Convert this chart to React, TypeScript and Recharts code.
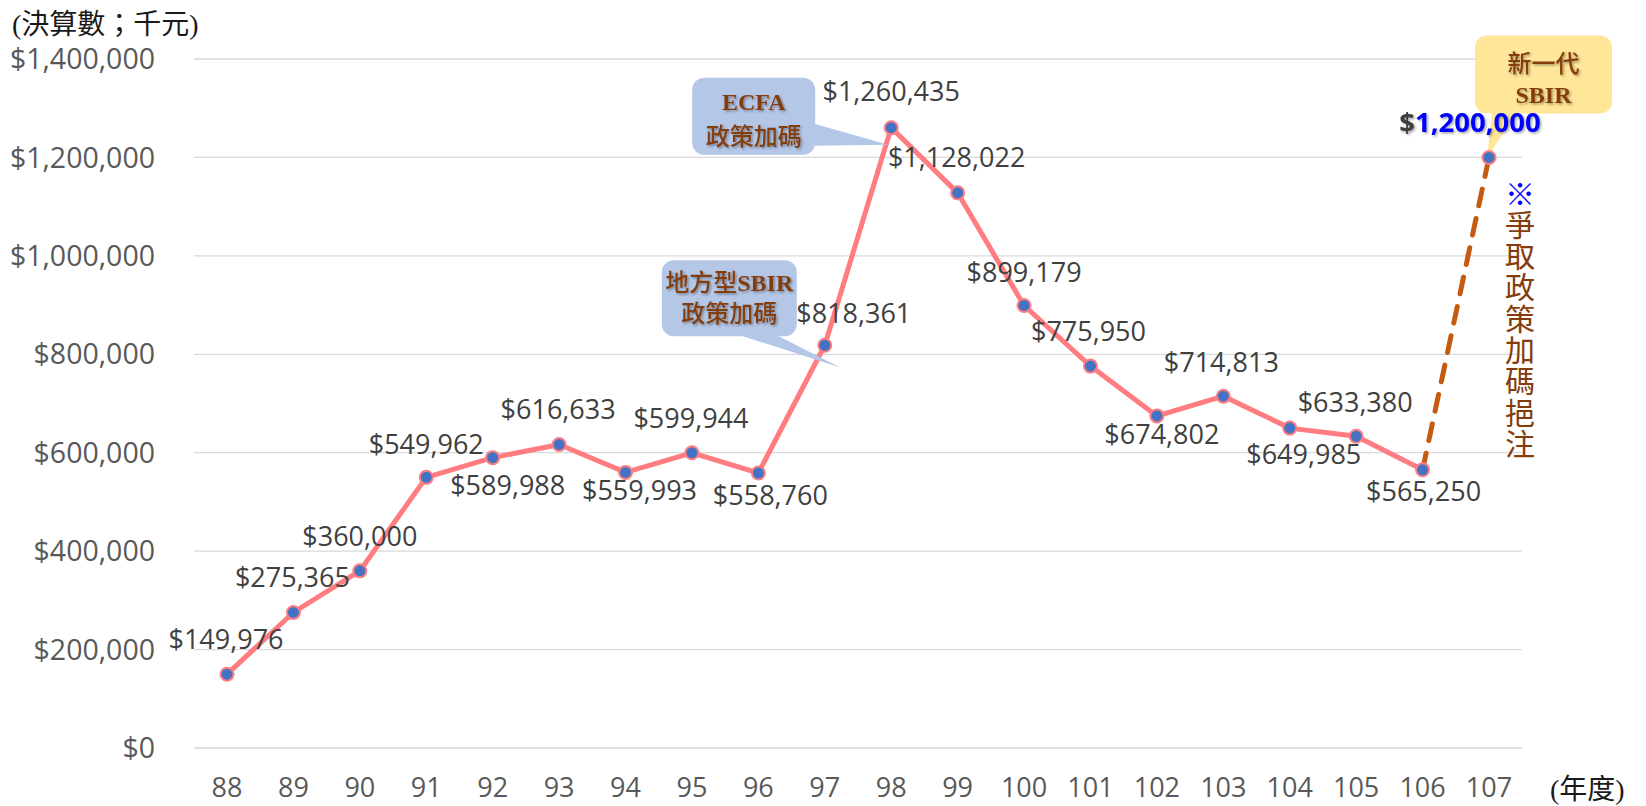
import React from 'react';
import { LineChart, Line, XAxis, YAxis, CartesianGrid, LabelList, ReferenceDot } from 'recharts';

// ---------- data ----------
const years = ['88', '89', '90', '91', '92', '93', '94', '95', '96', '97', '98', '99', '100', '101', '102', '103', '104', '105', '106', '107'];
const budget = [149976, 275365, 360000, 549962, 589988, 616633, 559993, 599944, 558760, 818361, 1260435, 1128022, 899179, 775950, 674802, 714813, 649985, 633380, 565250, 1200000];
const yTicks = [0, 200000, 400000, 600000, 800000, 1000000, 1200000, 1400000];
const lastActualIndex = 18;

const yUnitTitle = '(決算數；千元)';
const xUnitTitle = '(年度)';
const ecfaLines = ['ECFA', '政策加碼'];
const localLines = ['地方型', 'SBIR', '政策加碼'];
const newGenLines = ['新一代', 'SBIR'];
const noteMark = '※';
const noteText = '爭取政策加碼挹注';

// ---------- layout (label placement relative to point, px) ----------
const labelOffsets: [number, number][] = [
  [-1, -35], [-1, -35], [0, -34], [0, -33], [15, 28], [-1, -35], [14, 18], [-1, -34], [12, 22], [29, -32],
  [0, -36], [-1, -35], [0, -33], [-2, -35], [5, 18], [-2, -34], [14, 26], [-1, -34], [1, 22], [0, 0],
];

const W = 1646;
const H = 806;
const NUM_FONT = "'Open Sans', 'Noto Sans', sans-serif";
const CJK_FONT = "'Noto Sans CJK TC', 'Noto Sans CJK SC', sans-serif";
const SERIF_FONT = "'Liberation Serif', 'Noto Sans CJK TC', serif";
const BROWN = '#843C0C';
const DOT_FILL = '#4472C4';
const LINE_COLOR = '#FF7C80';

const data = years.map((y, i) => ({
  year: y,
  actual: i <= lastActualIndex ? budget[i] : null,
  target: i >= lastActualIndex ? budget[i] : null,
}));

const fmt = (v: number) => '$' + v.toLocaleString('en-US');

const ShadowDefs = ({ id }: { id: string }) => (
  <defs>
    <filter id={id} x="-20%" y="-20%" width="140%" height="140%">
      <feDropShadow dx="1.5" dy="1.5" stdDeviation="1" floodColor="#000" floodOpacity="0.35" />
    </filter>
  </defs>
);

const DataLabel = (props: any) => {
  const index = props.index;
  if (index == null || index > lastActualIndex) return null;
  const x = props.x ?? props.viewBox?.x;
  const y = props.y ?? props.viewBox?.y;
  if (x == null || y == null) return null;
  const [dx, dy] = labelOffsets[index];
  const fs = 27;
  return (
    <text x={x + dx} y={y + dy + fs * 0.357} textAnchor="middle" fontFamily={NUM_FONT} fontSize={fs} fill="#404040">
      {fmt(budget[index])}
    </text>
  );
};

const TargetDot = (props: any) => {
  const { index } = props;
  return <g key={`td-${index}`} />;
};

const EcfaCallout = (props: any) => {
  const { cx, cy } = props;
  if (cx == null) return null;
  const l = cx - 199, r = cx - 76, t = cy - 50, b = cy + 27;
  const mx = (l + r) / 2;
  const fs = 24;
  return (
    <g>
      <ShadowDefs id="shEcfa" />
      <rect x={l} y={t} width={r - l} height={b - t} rx={12} fill="#B4C7E7" />
      <polygon points={`${r - 1},${cy - 4} ${cx - 3},${cy + 17} ${r - 1},${cy + 18}`} fill="#B4C7E7" />
      <g filter="url(#shEcfa)" fill={BROWN}>
        <text x={mx} y={cy - 26 + fs * 0.35} textAnchor="middle" fontFamily={SERIF_FONT} fontWeight="bold" fontSize={fs}>
          {ecfaLines[0]}
        </text>
        <text x={mx} y={cy + 9 + fs * 0.36} textAnchor="middle" fontFamily={CJK_FONT} fontSize={fs} fontWeight={500}>
          {ecfaLines[1]}
        </text>
      </g>
    </g>
  );
};

const LocalCallout = (props: any) => {
  const { cx, cy } = props;
  if (cx == null) return null;
  const l = cx - 163, r = cx - 28, t = cy - 85, b = cy - 9;
  const mx = (l + r) / 2;
  const fs = 24;
  return (
    <g>
      <ShadowDefs id="shLocal" />
      <rect x={l} y={t} width={r - l} height={b - t} rx={12} fill="#B4C7E7" />
      <polygon points={`${cx - 85},${b - 1} ${cx + 15},${cy + 22} ${cx - 48},${b - 1}`} fill="#B4C7E7" />
      <g filter="url(#shLocal)" fill={BROWN}>
        <text x={mx} y={cy - 63 + fs * 0.36} textAnchor="middle" fontSize={fs}>
          <tspan fontFamily={CJK_FONT} fontWeight={500}>{localLines[0]}</tspan>
          <tspan fontFamily={SERIF_FONT} fontWeight="bold">{localLines[1]}</tspan>
        </text>
        <text x={mx} y={cy - 32 + fs * 0.36} textAnchor="middle" fontFamily={CJK_FONT} fontSize={fs} fontWeight={500}>
          {localLines[2]}
        </text>
      </g>
    </g>
  );
};

const NewGenCallout = (props: any) => {
  const { cx, cy } = props;
  if (cx == null) return null;
  const l = cx - 14, r = cx + 123, t = cy - 122, b = cy - 44;
  const mx = (l + r) / 2;
  const fs = 24;
  const nfs = 27.5;
  const vfs = 30;
  return (
    <g>
      <ShadowDefs id="shNew" />
      <rect x={l} y={t} width={r - l} height={b - t} rx={12} fill="#FFE699" />
      <polygon points={`${cx + 3},${b - 1} ${cx - 2},${cy} ${cx + 28},${b - 1}`} fill="#FFE699" />
      <g filter="url(#shNew)" fill={BROWN}>
        <text x={mx} y={cy - 94 + fs * 0.36} textAnchor="middle" fontFamily={CJK_FONT} fontSize={fs} fontWeight={500}>
          {newGenLines[0]}
        </text>
        <text x={mx} y={cy - 63 + fs * 0.35} textAnchor="middle" fontFamily={SERIF_FONT} fontWeight="bold" fontSize={fs}>
          {newGenLines[1]}
        </text>
      </g>
      <text
        x={cx - 19}
        y={cy - 35 + nfs * 0.357}
        textAnchor="middle"
        fontFamily={NUM_FONT}
        fontWeight="bold"
        fontSize={nfs}
        filter="url(#shNew)"
      >
        <tspan fill="#404040">$</tspan>
        <tspan fill="#0000FF">{budget[years.length - 1].toLocaleString('en-US')}</tspan>
      </text>
      <circle cx={cx} cy={cy} r={6.5} fill={DOT_FILL} stroke={LINE_COLOR} strokeWidth={2} />
      <text
        x={cx + 31}
        y={cy + 21}
        fontFamily={CJK_FONT}
        fontSize={vfs}
        style={{ writingMode: 'vertical-rl', letterSpacing: '1.3px' }}
      >
        <tspan fill="#0000FF">{noteMark}</tspan>
        <tspan fill={BROWN}>{noteText}</tspan>
      </text>
    </g>
  );
};

export default function App() {
  return (
    <div style={{ position: 'absolute', left: 0, top: 0, width: W, height: H, background: '#fff' }}>
      <LineChart width={W} height={H} data={data} margin={{ top: 59, right: 124, bottom: 0, left: 0 }}>
        <CartesianGrid vertical={false} stroke="#D9D9D9" strokeWidth={1.3} />
        <XAxis
          dataKey="year"
          height={58}
          padding={{ left: 33, right: 33 }}
          axisLine={false}
          tickLine={false}
          tickSize={0}
          tickMargin={30}
          interval={0}
          tick={{ fontSize: 27, fill: '#595959', fontFamily: NUM_FONT }}
        />
        <YAxis
          width={194}
          domain={[0, 1400000]}
          ticks={yTicks}
          axisLine={false}
          tickLine={false}
          tickSize={0}
          tickMargin={39}
          tickFormatter={fmt}
          tick={{ fontSize: 28.5, fill: '#595959', fontFamily: NUM_FONT }}
        />
        <Line
          dataKey="target"
          stroke="#C55A11"
          strokeWidth={5}
          strokeDasharray="17 13"
          strokeLinecap="round"
          dot={TargetDot}
          activeDot={false}
          isAnimationActive={false}
          connectNulls={false}
        />
        <Line
          dataKey="actual"
          stroke={LINE_COLOR}
          strokeWidth={5}
          dot={{ r: 6.5, fill: DOT_FILL, stroke: LINE_COLOR, strokeWidth: 2 }}
          activeDot={false}
          isAnimationActive={false}
          connectNulls={false}
        >
          <LabelList dataKey="actual" content={DataLabel} />
        </Line>
        <ReferenceDot x={years[10]} y={budget[10]} shape={EcfaCallout} ifOverflow="visible" />
        <ReferenceDot x={years[9]} y={budget[9]} shape={LocalCallout} ifOverflow="visible" />
        <ReferenceDot x={years[19]} y={budget[19]} shape={NewGenCallout} ifOverflow="visible" />
      </LineChart>
      <svg width={W} height={H} style={{ position: 'absolute', left: 0, top: 0, pointerEvents: 'none' }}>
        <text x={12} y={24 + 28 * 0.36} fontFamily={SERIF_FONT} fontSize={28} fill="#1a1a1a">
          {yUnitTitle}
        </text>
        <text x={1550} y={789 + 28 * 0.36} fontFamily={SERIF_FONT} fontSize={28} fill="#1a1a1a">
          {xUnitTitle}
        </text>
      </svg>
    </div>
  );
}
